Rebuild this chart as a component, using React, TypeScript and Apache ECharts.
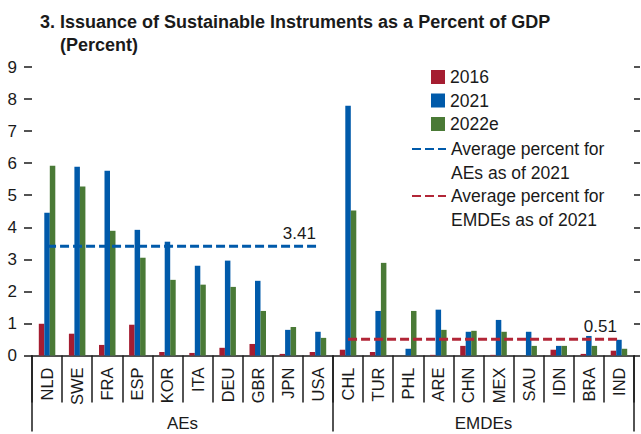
import React, { useEffect, useRef } from "react";
import * as echarts from "echarts";

const categories = ["NLD", "SWE", "FRA", "ESP", "KOR", "ITA", "DEU", "GBR", "JPN", "USA", "CHL", "TUR", "PHL", "ARE", "CHN", "MEX", "SAU", "IDN", "BRA", "IND"];
const groups = ["AEs", "EMDEs"];
const groupSizes = [10, 10];
const values2016 = [0.99, 0.68, 0.33, 0.96, 0.11, 0.08, 0.24, 0.36, 0.05, 0.11, 0.18, 0.11, 0, 0.02, 0.30, 0.02, 0, 0.18, 0.05, 0.15];
const values2021 = [4.45, 5.89, 5.76, 3.92, 3.55, 2.80, 2.96, 2.33, 0.80, 0.74, 7.79, 1.39, 0.21, 1.43, 0.74, 1.11, 0.74, 0.30, 0.61, 0.49];
const values2022e = [5.92, 5.27, 3.89, 3.05, 2.36, 2.21, 2.14, 1.39, 0.89, 0.55, 4.52, 2.89, 1.39, 0.80, 0.77, 0.74, 0.30, 0.30, 0.30, 0.21];
const groupAverages = [3.41, 0.51];
const yTicks = [0, 1, 2, 3, 4, 5, 6, 7, 8, 9];

const FONT = "'Liberation Sans', Arial, sans-serif";
const INK = "#1a1a1a";
const RED = "#a51d31";
const BLUE = "#005aaa";
const GREEN = "#4a7a36";
const RED_LINE = "#b22637";

const AE_NAME = "Average percent for\nAEs as of 2021";
const EM_NAME = "Average percent for\nEMDEs as of 2021";

function avgLine(groupIdx: number) {
  const start = groupSizes.slice(0, groupIdx).reduce((a, b) => a + b, 0);
  const end = start + groupSizes[groupIdx];
  return categories.map((_, i) => {
    if (i < start || i >= end) return "-";
    if (i === end - 1) {
      return {
        value: groupAverages[groupIdx],
        label: {
          show: true,
          position: "top",
          distance: 4,
          align: "right",
          offset: [-2, 0],
          formatter: groupAverages[groupIdx].toFixed(2),
          fontFamily: FONT,
          fontSize: 17,
          color: INK,
        },
      };
    }
    return groupAverages[groupIdx];
  });
}

export default function App() {
  const ref = useRef<HTMLDivElement>(null);
  useEffect(() => {
    if (!ref.current) return;
    const chart = echarts.init(ref.current, null, { renderer: "svg" });
    const lineLegendText = {
      fontFamily: FONT,
      fontSize: 17.5,
      color: INK,
      lineHeight: 23.5,
    };
    const lineLegendCommon = {
      orient: "vertical",
      left: 411,
      padding: 0,
      itemWidth: 34,
      itemHeight: 14,
      selectedMode: false,
      itemStyle: { color: "transparent", borderWidth: 0, opacity: 0 },
      formatter: (name: string) => " \n" + name,
      textStyle: lineLegendText,
    };
    chart.setOption({
      animation: false,
      title: [
        {
          text: "3. Issuance of Sustainable Instruments as a Percent of GDP",
          left: 40,
          top: 13,
          padding: 0,
          textStyle: { fontFamily: FONT, fontSize: 18, fontWeight: "bold", color: INK },
        },
        {
          text: "(Percent)",
          left: 60,
          top: 36,
          padding: 0,
          textStyle: { fontFamily: FONT, fontSize: 18, fontWeight: "bold", color: INK },
        },
      ],
      legend: [
        {
          data: ["2016", "2021", "2022e"],
          orient: "vertical",
          left: 431,
          top: 67,
          padding: 0,
          itemWidth: 14,
          itemHeight: 14,
          itemGap: 3.5,
          icon: "rect",
          selectedMode: false,
          textStyle: { fontFamily: FONT, fontSize: 17.5, color: INK, lineHeight: 20 },
        },
        { ...lineLegendCommon, data: [AE_NAME], top: 113.75 },
        { ...lineLegendCommon, data: [EM_NAME], top: 160.75 },
      ],
      grid: { left: 32, right: 7, top: 67, bottom: 78.5, containLabel: false },
      xAxis: [
        {
          type: "category",
          data: categories,
          position: "bottom",
          axisLine: { show: true, lineStyle: { color: INK, width: 1.5 } },
          axisTick: { show: true, length: 47, lineStyle: { color: INK, width: 1.5 } },
          axisLabel: {
            rotate: 90,
            margin: 12,
            interval: 0,
            fontFamily: FONT,
            fontSize: 16.5,
            color: INK,
          },
        },
        {
          type: "category",
          data: groups,
          position: "bottom",
          axisLine: { show: false },
          axisTick: { show: true, length: 76, lineStyle: { color: INK, width: 1.5 } },
          axisLabel: {
            margin: 59,
            fontFamily: FONT,
            fontSize: 17,
            color: INK,
          },
        },
      ],
      yAxis: [
        {
          type: "value",
          min: 0,
          max: 9,
          interval: 1,
          position: "left",
          splitLine: { show: false },
          axisLine: { show: false },
          axisTick: { show: true, length: 8, lineStyle: { color: INK, width: 1.5 } },
          axisLabel: {
            margin: 15,
            fontFamily: FONT,
            fontSize: 17,
            color: INK,
            formatter: (v: number) => (yTicks.includes(v) ? String(v) : ""),
          },
        },
        {
          type: "value",
          min: 0,
          max: 9,
          interval: 1,
          position: "right",
          splitLine: { show: false },
          axisLine: { show: false },
          axisTick: { show: true, length: 6, lineStyle: { color: INK, width: 1.5 } },
          axisLabel: { show: false },
        },
      ],
      series: [
        { name: "2016", type: "bar", data: values2016, barWidth: 5.5, barGap: "0%", itemStyle: { color: RED } },
        { name: "2021", type: "bar", data: values2021, barWidth: 5.5, barGap: "0%", itemStyle: { color: BLUE } },
        { name: "2022e", type: "bar", data: values2022e, barWidth: 5.5, barGap: "0%", itemStyle: { color: GREEN } },
        {
          name: AE_NAME,
          type: "line",
          data: avgLine(0),
          symbol: "circle",
          symbolSize: 1,
          showSymbol: true,
          z: 5,
          itemStyle: { color: "transparent", borderWidth: 0 },
          lineStyle: { color: BLUE, width: 3, type: [9, 4] },
        },
        {
          name: EM_NAME,
          type: "line",
          data: avgLine(1),
          symbol: "circle",
          symbolSize: 1,
          showSymbol: true,
          z: 5,
          itemStyle: { color: "transparent", borderWidth: 0 },
          lineStyle: { color: RED_LINE, width: 3, type: [9, 4] },
        },
      ],
    });
    return () => chart.dispose();
  }, []);
  return (
    <div
      ref={ref}
      style={{ position: "fixed", left: 0, top: 0, width: 641, height: 434, background: "#fff" }}
    />
  );
}
